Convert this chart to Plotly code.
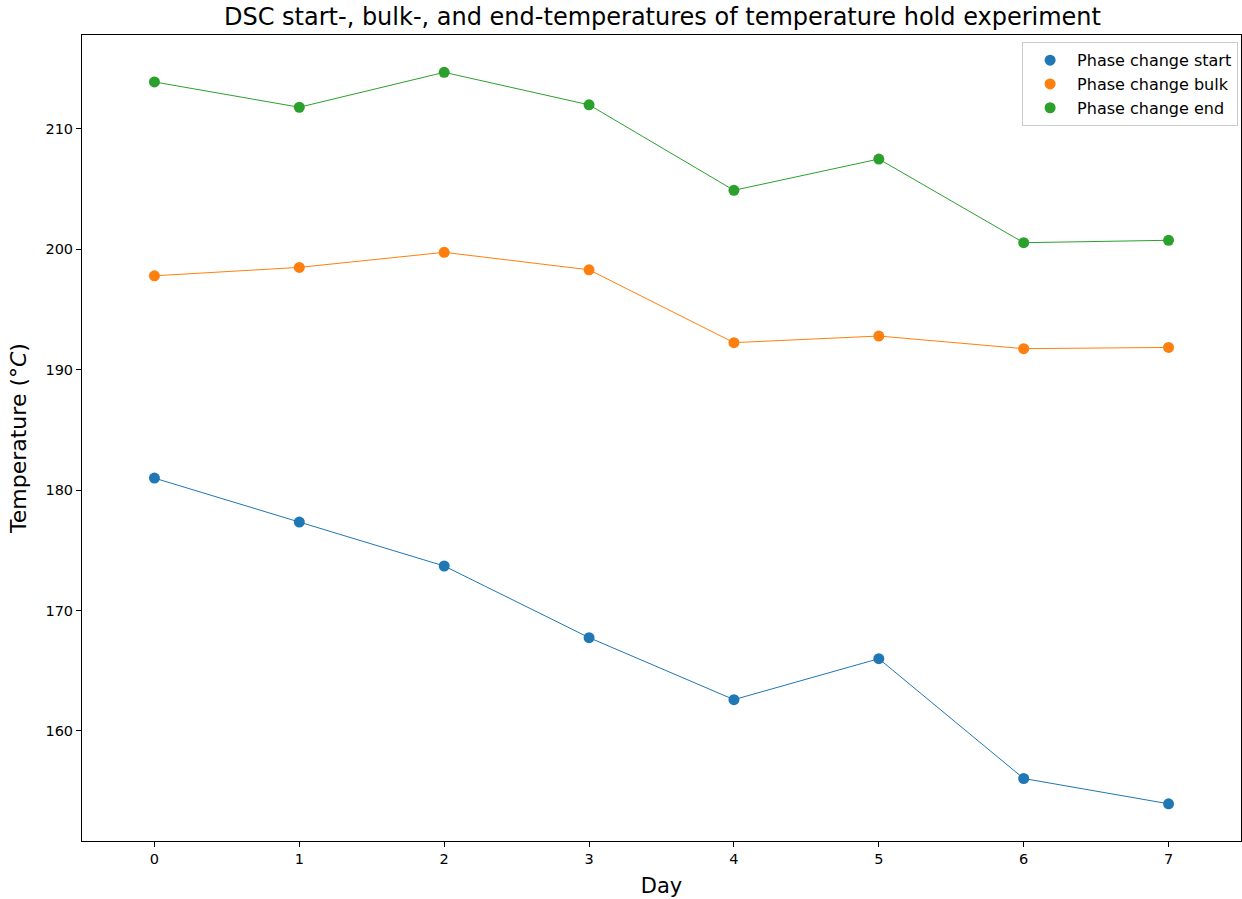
import plotly.graph_objects as go

days = [0, 1, 2, 3, 4, 5, 6, 7]
start_temp = [181.0, 177.35, 173.7, 167.75, 162.6, 166.0, 156.05, 153.95]
bulk_temp = [197.8, 198.5, 199.75, 198.3, 192.25, 192.8, 191.75, 191.85]
end_temp = [213.9, 211.8, 214.7, 212.0, 204.9, 207.5, 200.55, 200.75]

series = [
    ("Phase change start", start_temp, "#1f77b4"),
    ("Phase change bulk", bulk_temp, "#ff7f0e"),
    ("Phase change end", end_temp, "#2ca02c"),
]

font_family = "DejaVu Sans"
fig = go.Figure()

# connecting lines (no legend entries)
for name, vals, color in series:
    fig.add_trace(go.Scatter(x=days, y=vals, mode="lines",
                             line=dict(color=color, width=1),
                             showlegend=False, hoverinfo="skip"))

# scatter markers with legend entries
for name, vals, color in series:
    fig.add_trace(go.Scatter(x=days, y=vals, mode="markers", name=name,
                             marker=dict(color=color, size=11)))

axis_common = dict(showline=True, linecolor="black", linewidth=1, mirror=True,
                   ticks="outside", ticklen=5, tickcolor="black", showgrid=False,
                   zeroline=False, tickfont=dict(family=font_family, size=14.5, color="black"))

fig.update_layout(
    width=1242, height=899,
    paper_bgcolor="white", plot_bgcolor="white",
    margin=dict(l=82, r=1, t=35, b=58),
    title=dict(text="DSC start-, bulk-, and end-temperatures of temperature hold experiment",
               x=0.5334, xanchor="center", y=0.981, yanchor="middle",
               font=dict(family=font_family, size=24, color="black")),
    xaxis=dict(range=[-0.5, 7.5], tickvals=days, title=dict(text="Day", standoff=11,
               font=dict(family=font_family, size=21, color="black")), **axis_common),
    yaxis=dict(range=[150.86, 217.8], tickvals=[160, 170, 180, 190, 200, 210],
               title=dict(text="Temperature (°<i>C</i>)", standoff=12,
                          font=dict(family=font_family, size=22, color="black")), **axis_common),
    legend=dict(x=0.9975, xanchor="right", y=0.991, yanchor="top",
                bgcolor="white", bordercolor="#cccccc", borderwidth=1,
                font=dict(family=font_family, size=16, color="black"),
                itemwidth=44, tracegroupgap=0),
)

fig.write_html("out.html")
